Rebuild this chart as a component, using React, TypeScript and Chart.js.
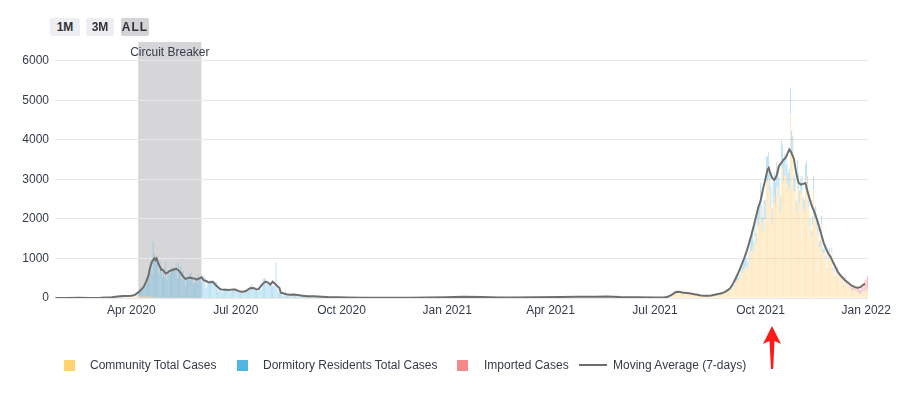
import React, { useEffect, useRef } from "react";
import Chart from "chart.js/auto";

// ---------- data ----------
const wave1Start = "2020-01-26";
const wave2Start = "2021-07-01";

// Jan 26 2020 – Sep 30 2020 (daily)
const community2020 = [
  0,0,0,0,0,0,
  1,0,0,6,4,2,3,7,3,2,2,3,8,9,5,3,2,4,3,1,1,3,0,1,1,2,3,2,4,
  2,2,2,2,6,11,7,10,7,4,8,4,6,5,5,6,6,14,10,16,17,9,22,17,25,22,27,36,24,27,37,
  45,35,40,45,35,30,40,50,40,40,38,40,40,30,40,50,35,30,24,16,20,15,14,12,14,16,12,12,10,12,
  12,8,10,8,6,9,8,6,5,8,5,4,7,6,4,5,4,3,5,4,5,6,4,3,3,5,6,4,3,5,4,
  4,6,7,5,3,4,3,5,6,4,3,4,5,3,4,2,5,4,3,2,5,4,3,4,6,3,2,4,5,4,
  5,4,3,6,2,5,4,6,3,5,4,3,6,5,4,3,5,2,6,4,3,5,4,3,2,4,5,3,4,6,3,
  4,3,2,5,3,4,2,3,5,2,1,3,4,2,3,1,2,4,3,2,3,1,2,3,2,1,2,3,1,2,3,
  2,1,3,2,1,2,1,2,1,0,2,1,1,2,0,1,1,2,0,1,1,0,1,0,1,2,0,1,1,0,
];
const dormitory2020 = [
  0,0,0,0,0,0,
  0,0,0,0,0,0,0,0,0,0,0,0,0,0,0,0,0,0,0,0,0,0,0,0,0,0,0,0,0,
  0,0,0,0,0,0,0,0,0,0,0,0,0,0,0,0,0,0,0,0,0,0,0,0,0,0,0,0,0,0,0,
  13,8,20,25,81,34,60,90,245,156,152,192,345,304,407,678,588,912,572,1410,1091,1001,1023,885,604,915,787,516,680,516,
  920,439,647,565,626,779,733,762,748,868,481,880,668,787,461,677,461,302,446,566,443,608,638,545,341,378,527,369,608,501,514,
  404,538,562,512,258,343,379,381,444,447,417,342,388,403,208,149,241,236,137,215,255,210,185,185,181,161,208,236,206,254,
  205,176,173,145,127,122,170,148,148,186,177,170,189,309,339,239,208,237,179,164,192,206,209,355,476,504,458,349,351,355,354,
  299,300,308,297,903,234,124,110,111,184,37,93,181,83,57,84,78,86,56,101,106,83,43,51,56,72,59,51,40,37,45,
  23,46,39,33,42,40,42,33,23,52,36,50,20,20,26,23,20,13,11,17,21,17,11,11,8,9,10,11,10,21,
];
const imported2020 = [
  1,1,2,0,3,3,
  1,0,0,0,0,0,0,0,0,0,0,0,0,0,0,0,0,0,0,0,0,0,0,0,0,0,0,0,0,
  0,0,0,0,1,2,1,2,3,2,4,5,7,7,9,11,17,33,22,24,30,14,32,32,48,30,22,34,18,8,10,
  16,6,5,5,4,2,6,2,2,2,1,1,1,0,0,0,0,0,0,0,0,0,0,0,0,0,0,0,0,0,
  0,0,0,0,0,0,0,0,0,0,0,0,0,0,0,0,0,0,0,0,0,0,0,0,0,0,0,0,0,0,0,
  0,0,0,0,0,0,1,0,1,0,2,1,0,1,2,0,1,3,2,1,2,4,3,2,4,5,3,6,2,4,
  5,3,7,6,8,6,9,4,8,7,10,6,5,8,4,6,9,3,7,5,6,8,4,9,3,5,6,7,4,8,5,
  6,4,3,5,2,4,6,3,5,2,4,6,3,5,4,2,6,3,5,4,7,3,5,2,6,4,3,5,4,3,6,
  5,8,6,4,7,5,9,6,5,8,6,4,7,5,6,3,5,4,6,3,5,4,3,5,4,6,3,5,4,6,
];

// Jul 1 2021 – Jan 2 2022 (daily)
const community2021 = [
  9,4,3,4,7,5,5,6,6,9,6,15,51,39,48,61,84,160,168,179,174,159,126,121,139,125,132,104,141,133,114,
  104,92,108,93,95,80,83,64,68,53,51,52,56,57,44,42,58,48,76,55,75,61,78,94,90,106,104,89,115,97,130,
  162,171,187,210,219,203,286,278,365,455,433,435,484,645,633,707,753,786,798,746,925,1162,1202,1297,1139,1556,1355,1823,1846,2024,
  2306,1904,1673,1972,2004,2932,2967,2999,2726,2286,1841,2413,2585,2380,2822,2784,2556,2150,3478,3300,2956,3112,3094,2920,2752,2823,4650,3683,3586,2709,2646,
  2166,3073,2778,2399,2649,2727,2247,2187,3013,3076,2747,2308,1799,1538,1836,2735,2027,2077,1726,1577,1294,1305,1875,1150,1118,1151,994,684,1008,1163,
  1001,1163,696,670,502,612,718,648,533,539,389,289,453,473,395,350,244,300,211,187,181,232,181,155,145,114,96,144,159,188,169,
  191,220,
];
const dormitory2021 = [
  0,0,0,0,0,0,0,0,0,0,0,0,0,0,0,0,0,0,0,0,0,0,0,0,0,0,0,0,0,0,0,
  0,0,0,0,0,0,0,0,0,0,0,0,0,0,0,0,0,0,2,1,3,2,5,8,6,10,12,8,15,11,18,
  15,20,30,28,35,30,60,50,90,110,120,80,120,190,170,200,180,220,210,169,250,290,300,350,300,380,290,410,420,450,
  600,450,380,500,480,644,620,702,600,520,420,560,600,550,620,560,500,400,512,560,480,520,500,460,420,450,671,560,520,400,380,
  300,420,380,320,350,360,300,280,380,400,350,300,220,180,230,340,250,240,200,180,140,150,200,120,110,120,90,60,90,100,
  90,100,60,55,40,50,60,50,40,40,30,20,30,30,25,20,15,18,12,10,10,12,8,8,6,6,5,6,5,5,4,
  4,3,
];
const imported2021 = [
  5,3,4,4,3,2,4,5,3,6,3,4,5,3,4,6,4,3,4,3,5,3,4,2,3,5,4,3,4,3,4,
  3,4,2,5,3,4,3,2,4,3,5,2,4,3,2,4,3,5,4,3,2,4,3,5,4,3,4,2,3,5,4,
  3,4,2,3,5,2,3,4,2,3,2,5,3,2,4,3,2,3,4,2,3,5,2,3,4,3,2,3,2,4,
  3,2,4,3,2,1,3,2,4,3,2,3,5,2,3,4,2,3,4,2,3,5,4,3,2,4,3,5,4,3,6,
  4,3,5,2,4,3,6,3,4,5,3,4,2,5,3,4,6,3,5,4,3,6,4,5,3,4,6,3,5,4,
  10,12,8,15,10,14,18,15,20,22,25,18,30,35,40,45,38,52,60,58,70,95,90,85,100,95,80,130,166,213,285,
  280,330,
];

// 7-day moving average, read at these dates
const maDates = [
  "2020-01-26","2020-02-05","2020-02-15","2020-02-25","2020-03-05","2020-03-10","2020-03-15","2020-03-20","2020-03-25","2020-03-28",
  "2020-04-01","2020-04-04","2020-04-07","2020-04-10","2020-04-12","2020-04-14","2020-04-16","2020-04-17","2020-04-18","2020-04-19",
  "2020-04-20","2020-04-21","2020-04-22","2020-04-23","2020-04-24","2020-04-25","2020-04-26","2020-04-27","2020-04-28","2020-04-29",
  "2020-04-30","2020-05-01","2020-05-02","2020-05-03","2020-05-04","2020-05-06","2020-05-08","2020-05-10","2020-05-12","2020-05-14",
  "2020-05-16","2020-05-18","2020-05-20","2020-05-22","2020-05-24","2020-05-26","2020-05-28","2020-05-30","2020-06-01","2020-06-03",
  "2020-06-05","2020-06-07","2020-06-09","2020-06-11","2020-06-13","2020-06-15","2020-06-17","2020-06-19","2020-06-21","2020-06-23",
  "2020-06-25","2020-06-27","2020-06-29","2020-07-01","2020-07-03","2020-07-05","2020-07-07","2020-07-09","2020-07-11","2020-07-13",
  "2020-07-15","2020-07-17","2020-07-19","2020-07-21","2020-07-23","2020-07-25","2020-07-27","2020-07-29","2020-07-31","2020-08-02",
  "2020-08-04","2020-08-06","2020-08-08","2020-08-09","2020-08-11","2020-08-14","2020-08-17","2020-08-20","2020-08-24","2020-08-28",
  "2020-09-01","2020-09-07","2020-09-14","2020-09-21","2020-09-28","2020-10-05","2020-10-20","2020-11-10","2020-11-30","2020-12-15",
  "2020-12-31","2021-01-15","2021-01-31","2021-02-15","2021-03-01","2021-03-20","2021-04-10","2021-04-25","2021-05-10","2021-05-20",
  "2021-05-31","2021-06-15","2021-06-30","2021-07-05","2021-07-09","2021-07-12","2021-07-15","2021-07-17","2021-07-19","2021-07-21",
  "2021-07-23","2021-07-26","2021-07-29","2021-08-01","2021-08-04","2021-08-07","2021-08-10","2021-08-13","2021-08-16","2021-08-19",
  "2021-08-22","2021-08-25","2021-08-28","2021-08-31","2021-09-03","2021-09-05","2021-09-07","2021-09-09","2021-09-11","2021-09-13",
  "2021-09-15","2021-09-17","2021-09-19","2021-09-21","2021-09-23","2021-09-25","2021-09-27","2021-09-29","2021-10-01","2021-10-03",
  "2021-10-05","2021-10-07","2021-10-08","2021-10-09","2021-10-11","2021-10-13","2021-10-15","2021-10-17","2021-10-19","2021-10-21",
  "2021-10-23","2021-10-25","2021-10-26","2021-10-27","2021-10-28","2021-10-30","2021-11-01","2021-11-03","2021-11-05","2021-11-07",
  "2021-11-09","2021-11-11","2021-11-13","2021-11-15","2021-11-17","2021-11-19","2021-11-21","2021-11-23","2021-11-25","2021-11-27",
  "2021-11-29","2021-12-01","2021-12-03","2021-12-05","2021-12-07","2021-12-09","2021-12-11","2021-12-13","2021-12-15","2021-12-17",
  "2021-12-19","2021-12-21","2021-12-23","2021-12-25","2021-12-27","2021-12-29","2021-12-31",
];
const maValues = [
  2,3,4,2,5,10,18,38,53,53,
  55,79,142,220,297,420,579,728,839,920,
  964,1004,957,1005,916,832,786,713,718,694,
  654,622,637,651,681,702,721,740,705,636,
  548,484,499,517,502,491,467,499,525,452,
  430,399,398,408,341,286,232,212,209,206,
  203,212,214,208,181,162,161,172,201,241,
  251,249,214,230,310,375,417,391,340,411,
  360,306,250,135,121,94,84,86,73,58,
  45,45,34,19,16,11,8,7,9,14,
  22,30,26,12,12,16,26,32,30,38,
  24,18,14,10,14,29,70,109,145,159,
  150,130,126,116,97,80,64,54,58,64,
  83,100,119,156,212,270,370,480,600,740,
  880,1030,1200,1400,1600,1820,2060,2300,2460,2750,
  2990,3250,3290,3200,3040,2990,3100,3340,3420,3500,
  3560,3700,3760,3720,3660,3520,3160,2920,2870,2890,
  2910,2680,2480,2300,2160,1990,1800,1590,1390,1250,
  1120,1040,910,790,670,590,525,462,410,365,
  316,288,263,258,280,330,360,
];

const tickDates = ["2020-04-01","2020-07-01","2020-10-01","2021-01-01","2021-04-01","2021-07-01","2021-10-01","2022-01-01"];
const tickLabels = ["Apr 2020","Jul 2020","Oct 2020","Jan 2021","Apr 2021","Jul 2021","Oct 2021","Jan 2022"];
const yTicks = [0, 1000, 2000, 3000, 4000, 5000, 6000];

const axisStart = "2020-01-26";
const axisEnd = "2022-01-02";
const cbStart = "2020-04-07";
const cbEnd = "2020-06-01";
const cbLabel = "Circuit Breaker";

const seriesNames = ["Community Total Cases", "Dormitory Residents Total Cases", "Imported Cases", "Moving Average (7-days)"];
const rangeButtons = ["1M", "3M", "ALL"];

// ---------- helpers ----------
const FONT = "'Liberation Sans', Arial, Helvetica, sans-serif";
const TEXT = "#333c4a";
const C_COMM = "#ffd46e";
const C_DORM = "#4fb5e3";
const C_IMP = "#f28b8b";
const C_MA = "#6e6e6e";

function dayIndex(s: string): number {
  const [y, m, d] = s.split("-").map(Number);
  return Math.round((Date.UTC(y, m - 1, d) - Date.UTC(2020, 0, 1)) / 86400000);
}
function toPoints(start: string, arr: number[]) {
  const s = dayIndex(start);
  return arr.map((v, i) => ({ x: s + i, y: v }));
}

const bandPlugin = {
  id: "cbBand",
  beforeDraw(chart: any) {
    const { ctx, chartArea, scales } = chart;
    const x0 = scales.x.getPixelForValue(dayIndex(cbStart));
    const x1 = scales.x.getPixelForValue(dayIndex(cbEnd));
    ctx.save();
    ctx.fillStyle = "#d6d6d9";
    ctx.fillRect(x0, chartArea.top, x1 - x0, chartArea.bottom - chartArea.top);
    ctx.restore();
  },
  afterDraw(chart: any) {
    const { ctx, chartArea, scales } = chart;
    const x0 = scales.x.getPixelForValue(dayIndex(cbStart));
    const x1 = scales.x.getPixelForValue(dayIndex(cbEnd));
    ctx.save();
    ctx.font = `12px ${FONT}`;
    ctx.fillStyle = TEXT;
    ctx.textAlign = "center";
    ctx.textBaseline = "middle";
    ctx.fillText(cbLabel, (x0 + x1) / 2, chartArea.top + 11);
    ctx.restore();
  },
};

export default function App() {
  const canvasRef = useRef<HTMLCanvasElement | null>(null);

  useEffect(() => {
    if (!canvasRef.current) return;
    const tickDays = tickDates.map(dayIndex);
    const maPoints = maDates.map((d, i) => ({ x: dayIndex(d), y: maValues[i] }));
    const barCommon = { stack: "cases", order: 1, barPercentage: 0.72, categoryPercentage: 1, borderWidth: 0 };

    const chart = new Chart(canvasRef.current, {
      type: "bar",
      data: {
        datasets: [
          {
            type: "line",
            label: seriesNames[3],
            data: maPoints,
            borderColor: C_MA,
            backgroundColor: C_MA,
            borderWidth: 2,
            pointRadius: 0,
            tension: 0,
            order: 0,
          } as any,
          { ...barCommon, label: seriesNames[0], data: [...toPoints(wave1Start, community2020), ...toPoints(wave2Start, community2021)], backgroundColor: "rgba(255, 205, 110, 0.5)" },
          { ...barCommon, label: seriesNames[1], data: [...toPoints(wave1Start, dormitory2020), ...toPoints(wave2Start, dormitory2021)], backgroundColor: "rgba(80, 180, 228, 0.45)" },
          { ...barCommon, label: seriesNames[2], data: [...toPoints(wave1Start, imported2020), ...toPoints(wave2Start, imported2021)], backgroundColor: "rgba(242, 130, 130, 0.55)" },
        ],
      },
      options: {
        animation: false,
        responsive: false,
        devicePixelRatio: 1,
        layout: { padding: { top: 42, right: 55, bottom: 0, left: 0 } },
        plugins: { legend: { display: false }, tooltip: { enabled: false } },
        scales: {
          x: {
            type: "linear",
            min: dayIndex(axisStart) - 0.5,
            max: dayIndex(axisEnd) + 0.5,
            offset: false,
            grid: { display: false, drawTicks: false },
            border: { display: false },
            afterBuildTicks: (s: any) => {
              s.ticks = tickDays.map((v) => ({ value: v }));
            },
            afterFit: (s: any) => {
              s.height = 96;
            },
            ticks: {
              autoSkip: false,
              maxRotation: 0,
              padding: 5,
              color: TEXT,
              font: { size: 12, family: FONT },
              callback: (_v: any, i: number) => tickLabels[i],
            },
          },
          y: {
            min: 0,
            max: 6480,
            grid: { color: "#e8e8ec", drawTicks: false },
            border: { display: false },
            afterBuildTicks: (s: any) => {
              s.ticks = yTicks.map((v) => ({ value: v }));
            },
            afterFit: (s: any) => {
              s.width = 55;
            },
            ticks: {
              autoSkip: false,
              padding: 6,
              color: TEXT,
              font: { size: 12, family: FONT },
              callback: (_v: any, i: number) => String(yTicks[i]),
            },
          },
        },
      } as any,
      plugins: [bandPlugin],
    });
    return () => chart.destroy();
  }, []);

  const legendItems = [
    { sq: 64, tx: 90, color: C_COMM, name: seriesNames[0], line: false },
    { sq: 237, tx: 263, color: C_DORM, name: seriesNames[1], line: false },
    { sq: 457, tx: 484, color: C_IMP, name: seriesNames[2], line: false },
    { sq: 579, tx: 613, color: C_MA, name: seriesNames[3], line: true },
  ];
  const buttons = [
    { left: 50, width: 30, bg: "#eceef1" },
    { left: 86, width: 28, bg: "#eceef1" },
    { left: 121, width: 28, bg: "#d3d4d8" },
  ];

  return (
    <div style={{ position: "fixed", left: 0, top: 0, width: 923, height: 394, background: "#fff", fontFamily: FONT, overflow: "hidden" }}>
      <canvas ref={canvasRef} width={923} height={394} style={{ position: "absolute", left: 0, top: 0 }} />
      {rangeButtons.map((b, i) => (
        <div
          key={b}
          style={{
            position: "absolute",
            left: buttons[i].left,
            top: 18,
            width: buttons[i].width,
            height: 18,
            lineHeight: "18px",
            background: buttons[i].bg,
            borderRadius: 2,
            textAlign: "center",
            fontSize: 12,
            fontWeight: "bold",
            color: "#333",
            letterSpacing: b === "ALL" ? 1 : 0,
          }}
        >
          {b}
        </div>
      ))}
      {legendItems.map((it) => (
        <React.Fragment key={it.name}>
          {it.line ? (
            <div style={{ position: "absolute", left: it.sq, top: 364, width: 28, height: 2, background: it.color }} />
          ) : (
            <div style={{ position: "absolute", left: it.sq, top: 360, width: 11, height: 11, background: it.color }} />
          )}
          <div style={{ position: "absolute", left: it.tx, top: 358, fontSize: 12, lineHeight: "15px", color: TEXT, whiteSpace: "nowrap" }}>
            {it.name}
          </div>
        </React.Fragment>
      ))}
      <svg width={923} height={394} style={{ position: "absolute", left: 0, top: 0, pointerEvents: "none" }}>
        <polygon points="772,326 781,344 774.5,341 773.2,369 771,369 769.5,341 763,344" fill="#ff1a1a" />
      </svg>
    </div>
  );
}
